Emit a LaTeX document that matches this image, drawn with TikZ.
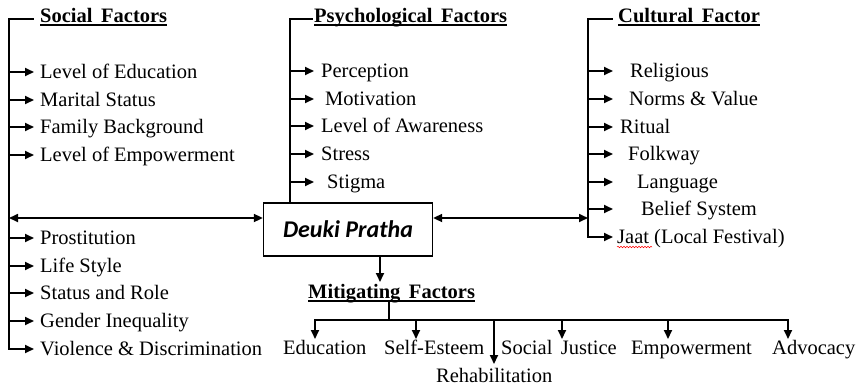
\documentclass[tikz,border=0pt]{standalone}
\usepackage{fontspec}
\setmainfont{Liberation Serif}
\newfontfamily\calibfont{Carlito}
\usetikzlibrary{arrows.meta,decorations.pathmorphing}
\begin{document}
\begin{tikzpicture}[x=1pt,y=-1pt,
  txt/.style={anchor=base west, inner sep=0pt, font=\fontsize{20.5}{24}\selectfont},
  ttl/.style={anchor=base west, inner sep=0pt, font=\fontsize{20.5}{24}\selectfont\bfseries},
  bracket/.style={line width=2.8pt, line cap=rect},
  arr/.style={line width=1.8pt, -{Triangle[length=9pt,width=8pt]}},
  darr/.style={line width=1.7pt, {Triangle[length=9pt,width=8pt]}-{Triangle[length=9pt,width=8pt]}},
  uline/.style={line width=1.3pt},
  mainbox/.style={draw, line width=1.3pt, minimum width=169pt, minimum height=53pt, inner sep=0pt,
    font=\calibfont\fontsize{24}{28}\selectfont\bfseries\itshape}
]
\useasboundingbox (0,0) rectangle (856,386);

% ---------- Social factors ----------
\node[ttl] (st) at (40,22) {Social\, Factors};
\draw[uline] ([yshift=-3pt]st.base west) -- ([yshift=-3pt]st.base east);
\coordinate (stop) at (9,19);
\coordinate (sbot) at (9,349);
\draw[bracket] (33,19) -- (stop) -- (sbot);
\foreach \b/\t [count=\i] in {78/Level of Education, 106/Marital Status, 133/Family Background, 161/Level of Empowerment, 244/Prostitution, 272/Life Style, 299/Status and Role, 327/Gender Inequality, 355/Violence \& Discrimination}{
  \node[txt] (s\i) at (40,\b) {\t};
  \coordinate (sl\i) at (9,\b-6);
  \draw[arr] (sl\i) -- ([xshift=-6pt,yshift=6pt]s\i.base west);
}

% ---------- Central box ----------
\node[mainbox] (dp) at (348,229.5) {Deuki Pratha};
\coordinate (sl) at (9,218);
\draw[darr] (sl) -- (sl -| dp.west);

% ---------- Psychological factors ----------
\node[ttl] (pt) at (314,22) {Psychological\, Factors};
\draw[uline] ([yshift=-3pt]pt.base west) -- ([yshift=-3pt]pt.base east);
\coordinate (ptop) at (290,19);
\draw[bracket] (312,19) -- (ptop) -- (ptop |- dp.north);
\foreach \x/\b/\t [count=\i] in {321/77/Perception, 325/105/Motivation, 321/132/Level of Awareness, 321/160/Stress, 327/188/Stigma}{
  \node[txt] (p\i) at (\x,\b) {\t};
  \coordinate (pl\i) at (290,\b-6);
  \coordinate (pe\i) at (314,\b-6);
  \draw[arr] (pl\i) -- (pe\i);
}

% ---------- Cultural factor ----------
\node[ttl] (ct) at (618,22) {Cultural\, Factor};
\draw[uline] ([yshift=-3pt]ct.base west) -- ([yshift=-3pt]ct.base east);
\coordinate (ctop) at (588,19);
\coordinate (cbot) at (588,237);
\draw[bracket] (612,19) -- (ctop) -- (cbot);
\foreach \x/\b/\t [count=\i] in {630/77/Religious, 629/105/Norms \& Value, 620/133/Ritual, 628/160/Folkway, 637/188/Language, 641/215/Belief System, 617/243/Jaat (Local Festival)}{
  \node[txt] (c\i) at (\x,\b) {\t};
  \coordinate (cl\i) at (588,\b-6);
  \coordinate (ce\i) at (613,\b-6);
  \draw[arr] (cl\i) -- (ce\i);
}
\draw[red, line width=0.5pt, decorate, decoration={snake, amplitude=0.8pt, segment length=3pt}]
  ([yshift=-4pt]c7.base west) -- ++(35,0);
\coordinate (cr) at (588,218);
\draw[darr] (dp.east |- cr) -- (cr);

% ---------- Mitigating factors ----------
\node[ttl] (mf) at (308,298) {Mitigating\, Factors};
\draw[uline] ([yshift=-3pt]mf.base west) -- ([yshift=-3pt]mf.base east);
\coordinate (dpo) at ([xshift=32pt]dp.south);
\coordinate (mfi) at (380,282);
\draw[arr] (dpo) -- (mfi);
\coordinate (mfo) at (389,301);
\coordinate (bus) at (389,320);
\draw[line width=2.2pt] (mfo) -- (bus);
\coordinate (busl) at (315,320);
\coordinate (busr) at (788,320);
\draw[line width=2.2pt, line cap=rect] (busl) -- (busr);

\node[txt] (m1) at (283,354) {Education};
\node[txt] (m2) at (384,354) {Self-Esteem};
\node[txt] (m3) at (436,382) {Rehabilitation};
\node[txt] (m4) at (501,354) {Social\, Justice};
\node[txt] (m5) at (631,354) {Empowerment};
\node[txt] (m6) at (772,354) {Advocacy};
\foreach \x/\e [count=\i] in {315/339, 416/339, 494/364, 562/339, 668/339, 788/339}{
  \coordinate (mt\i) at (\x,320);
  \coordinate (me\i) at (\x,\e);
  \draw[arr] (mt\i) -- (me\i);
}
\end{tikzpicture}
\end{document}
